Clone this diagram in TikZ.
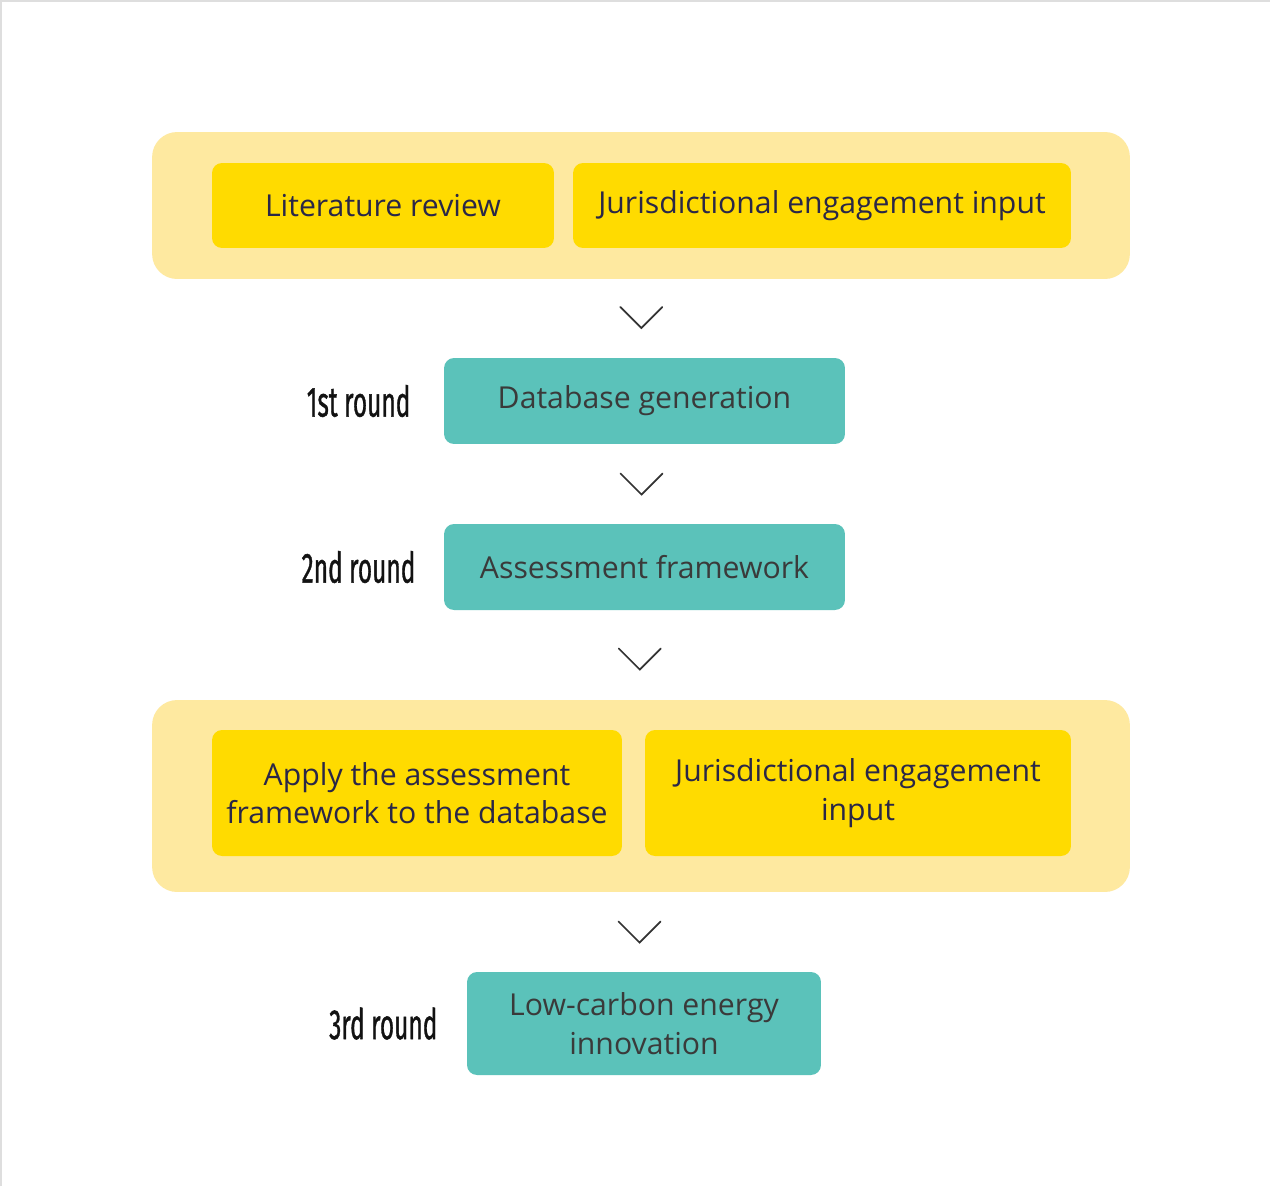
\documentclass[tikz,border=0pt]{standalone}
\usepackage{fontspec}
\setmainfont{Open Sans}
\newfontfamily\roundfont[FakeBold=1.2]{Fira Sans}
\usetikzlibrary{positioning,calc}
\definecolor{paleyellow}{HTML}{FEE9A0}
\definecolor{brightyellow}{HTML}{FFDB00}
\definecolor{tealbox}{HTML}{5BC2BA}
\definecolor{navytext}{HTML}{2A2747}
\definecolor{graytext}{HTML}{3A3A3A}
\definecolor{framegray}{HTML}{DEDEDE}
\definecolor{chevrongray}{HTML}{333333}
\tikzset{
  groupbox/.style={fill=paleyellow, rounded corners=0.5cm, draw=none},
  ybox/.style={fill=brightyellow, rounded corners=0.2cm, draw=none, text=navytext,
    font=\fontsize{17.2}{22}\selectfont, align=center, inner sep=0pt},
  tbox/.style={fill=tealbox, rounded corners=0.2cm, draw=none, text=graytext,
    font=\fontsize{17.2}{22}\selectfont, align=center, inner sep=0pt},
  roundlabel/.style={text=black!93, inner sep=0pt, font=\roundfont\fontsize{24}{28}\selectfont},
  chevron/.style={draw=chevrongray, line width=1pt, line cap=round, line join=miter},
}
\newcommand{\narrowtext}[1]{\scalebox{0.58}[1]{#1}}
\begin{document}
\begin{tikzpicture}[x=0.02cm,y=-0.02cm]
\useasboundingbox (0,0) rectangle (1270,1186);
\fill[white] (0,0) rectangle (1270,1186);
\draw[framegray, line width=1.2pt] (1,1186) -- (1,1) -- (1270,1);

% top group
\node[groupbox, minimum width=19.56cm, minimum height=2.94cm] (g1) at (641,205.5) {};
\node[ybox, minimum width=6.84cm, minimum height=1.7cm] (lit) at (383,205.5) {Literature review};
\node[ybox, minimum width=9.96cm, minimum height=1.7cm] (jur1) at (822,205.5) {Jurisdictional engagement input};

% rounds 1 and 2
\node[tbox, minimum width=8.02cm, minimum height=1.72cm] (db) at (644.5,401) {Database generation};
\node[tbox, minimum width=8.02cm, minimum height=1.72cm] (af) at (644.5,567) {Assessment framework};
\node[roundlabel, left=0.66cm of db] (r1) {\narrowtext{1st round}};
\node[roundlabel, left=0.56cm of af] (r2) {\narrowtext{2nd round}};

% bottom group
\node[groupbox, minimum width=19.56cm, minimum height=3.84cm] (g2) at (641,796) {};
\node[ybox, minimum width=8.2cm, minimum height=2.52cm] (apply) at (417,793) {Apply the assessment\\framework to the database};
\node[ybox, minimum width=8.52cm, minimum height=2.52cm] (jur2) at (858,793) {Jurisdictional engagement\\input};

% round 3
\node[tbox, minimum width=7.08cm, minimum height=2.06cm] (lc) at (644,1023.5) {Low-carbon energy\\innovation};
\node[roundlabel, left=0.58cm of lc] (r3) {\narrowtext{3rd round}};

% chevrons
\coordinate (c1) at ($(g1.south)!0.5!(db.north)+(-1.5,-1)$);
\coordinate (c2) at ($(db.south)!0.5!(af.north)+(-3,0)$);
\coordinate (c3) at ($(af.south)!0.5!(g2.north)+(-3,4)$);
\coordinate (c4) at ($(g2.south)!0.5!(lc.north)+(-3,0)$);
\foreach \c in {c1,c2,c3,c4}{
  \draw[chevron] ([shift={(-21,-10.5)}]\c) -- ([shift={(0,10.5)}]\c) -- ([shift={(21,-10.5)}]\c);
}
\end{tikzpicture}
\end{document}
